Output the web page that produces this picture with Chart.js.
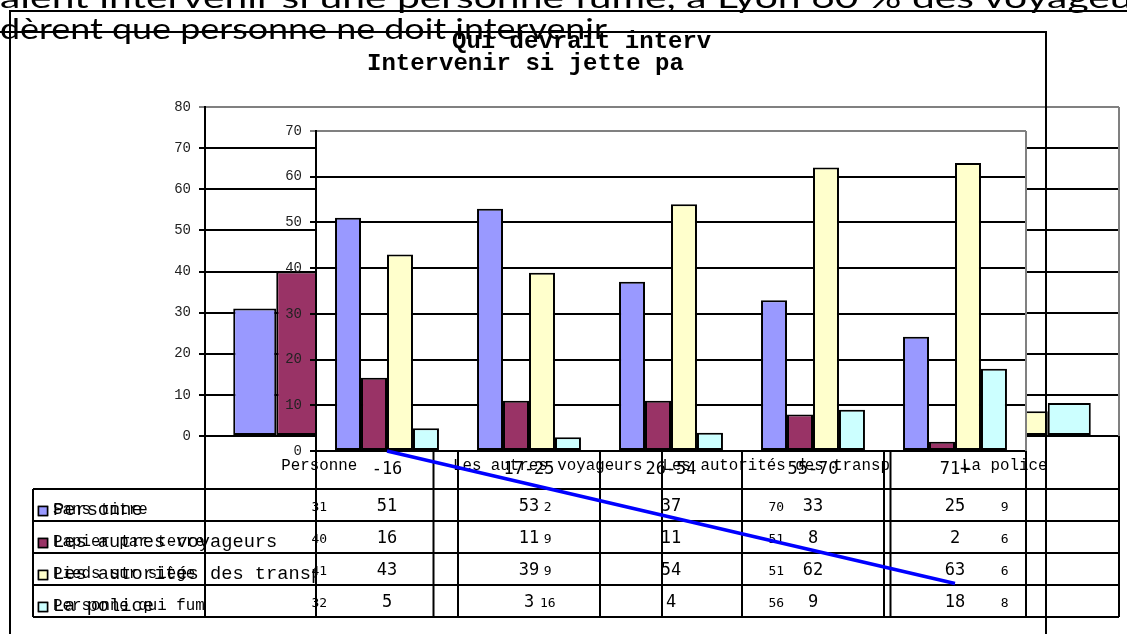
<!DOCTYPE html>
<html>
<head>
<meta charset="utf-8">
<script src="https://cdn.jsdelivr.net/npm/chart.js@4.4.1/dist/chart.umd.min.js"></script>
<style>
  html,body{margin:0;padding:0;background:#fff;width:1127px;height:634px;overflow:hidden;}
  canvas{position:absolute;left:0;top:0;}
  #backCanvas{z-index:1;}
  #frontCanvas{z-index:2;}
  .frame{position:absolute;border:2px solid #000;box-sizing:border-box;z-index:3;}
  #backFrame{left:9px;top:10px;width:1200px;height:700px;}
  #frontFrame{left:-20px;top:31px;width:1067px;height:700px;}
  #txt{position:absolute;left:0;top:0;z-index:4;}
  .ttl{position:absolute;z-index:4;font-family:"Liberation Mono","Courier New",monospace;font-weight:bold;font-size:24px;line-height:24px;color:#000;white-space:nowrap;}
</style>
</head>
<body>
<canvas id="backCanvas" width="1127" height="634"></canvas>
<canvas id="frontCanvas" width="1127" height="634"></canvas>
<div class="frame" id="backFrame"></div>
<div class="frame" id="frontFrame"></div>
<svg id="txt" width="1127" height="634">
  <text x="0" y="8" font-family="Lato, 'DejaVu Sans', sans-serif" font-size="28" textLength="1165" lengthAdjust="spacingAndGlyphs">aient intervenir si une personne fume, à Lyon 60 % des voyageurs</text>
  <text x="0" y="39" font-family="Lato, 'DejaVu Sans', sans-serif" font-size="28" textLength="607" lengthAdjust="spacingAndGlyphs">dèrent que personne ne doit intervenir</text>
</svg>
<div class="ttl" style="left:452px;top:30px;">Qui devrait interv</div>
<div class="ttl" style="left:367px;top:52px;">Intervenir si jette pa</div>
<script>
// ---------- DATA ----------
// Front chart: "Qui devrait intervenir si jette papier" by age group
const frontCategories = ['-16', '17-25', '26-54', '55-70', '71+'];
const frontSeriesNames = ['Personne', 'Les autres voyageurs', 'Les autorités des transp', 'La police'];
const frontPersonne = [51, 53, 37, 33, 25];
const frontAutresVoyageurs = [16, 11, 11, 8, 2];
const frontAutorites = [43, 39, 54, 62, 63];
const frontPolice = [5, 3, 4, 9, 18];
const frontYTicks = [0, 10, 20, 30, 40, 50, 60, 70];

// Back chart: who should intervene, by incivility
const backCategories = ['Personne', 'Les autres voyageurs', 'Les autorités des transp', 'La police'];
const backSeriesNames = ['Sans titre', 'Papier par terre', 'Pieds sur siège', 'Personne qui fum'];
const backSansTitre = [31, 2, 70, 9];
const backPapier = [40, 9, 51, 6];
const backPieds = [41, 9, 51, 6];
const backFume = [32, 16, 56, 8];
const backYTicks = [0, 10, 20, 30, 40, 50, 60, 70, 80];

// Hand-drawn blue line over the chart (front chart data coordinates)
const blueLineFrom = ['-16', 0];
const blueLineTo = ['71+', -29];

// ---------- STYLE ----------
const COLORS = ['#9999FF', '#993366', '#FFFFCC', '#CCFFFF'];
const ROWS_Y = [489, 521, 553, 585, 617];
const TABLE_LEFT = 33;
const MONO = '"Liberation Mono", "Courier New", monospace';
const SANSMONO = '"DejaVu Sans Mono", monospace';

function line(ctx, x1, y1, x2, y2) { ctx.beginPath(); ctx.moveTo(x1, y1); ctx.lineTo(x2, y2); ctx.stroke(); }

function makeTablePlugin(cfg) {
  return {
    id: 'table_' + cfg.name,
    beforeDraw(chart) {
      if (cfg.whitePlot) {
        const a = chart.chartArea, ctx = chart.ctx;
        ctx.save(); ctx.fillStyle = '#fff'; ctx.fillRect(a.left, a.top, a.right - a.left, a.bottom - a.top); ctx.restore();
      }
    },
    afterDraw(chart) {
      const ctx = chart.ctx, a = chart.chartArea, xs = chart.scales.x, ys = chart.scales.y;
      const n = chart.data.labels.length, step = (a.right - a.left) / n;
      const last = ROWS_Y[ROWS_Y.length - 1];
      ctx.save();
      // plot right border (gray)
      ctx.strokeStyle = '#808080'; ctx.lineWidth = 2;
      line(ctx, a.right, a.top, a.right, a.bottom);
      // table grid
      ctx.strokeStyle = '#000'; ctx.lineWidth = 2;
      for (let k = 0; k <= n; k++) { const xx = a.left + k * step; line(ctx, xx, a.bottom, xx, last); }
      ROWS_Y.forEach(yy => line(ctx, TABLE_LEFT, yy, a.right, yy));
      line(ctx, TABLE_LEFT, ROWS_Y[0], TABLE_LEFT, last);
      // legend + values
      chart.data.datasets.forEach((ds, i) => {
        const rc = (ROWS_Y[i] + ROWS_Y[i + 1]) / 2;
        ctx.fillStyle = ds.backgroundColor; ctx.fillRect(38.5, rc + 6 - 4.5, 9, 9);
        ctx.lineWidth = 1.5; ctx.strokeStyle = '#000'; ctx.strokeRect(38.5, rc + 6 - 4.5, 9, 9);
        ctx.save();
        ctx.beginPath(); ctx.rect(TABLE_LEFT, ROWS_Y[i], a.left - TABLE_LEFT, ROWS_Y[i + 1] - ROWS_Y[i]); ctx.clip();
        ctx.fillStyle = '#000'; ctx.font = cfg.legendFont; ctx.textAlign = 'left'; ctx.textBaseline = 'middle';
        ctx.fillText(ds.label, 53, rc + 5);
        ctx.restore();
        ctx.fillStyle = '#000'; ctx.font = cfg.valueFont; ctx.textAlign = 'center'; ctx.textBaseline = 'middle';
        ds.data.forEach((v, j) => ctx.fillText(String(v), xs.getPixelForValue(j), rc + cfg.valueDy));
      });
      // annotation line
      if (cfg.blueLine) {
        ctx.strokeStyle = '#0000FF'; ctx.lineWidth = 3.5; ctx.lineCap = 'butt';
        const li = (c) => chart.data.labels.indexOf(c);
        line(ctx, xs.getPixelForValue(li(blueLineFrom[0])), ys.getPixelForValue(blueLineFrom[1]),
                  xs.getPixelForValue(li(blueLineTo[0])), ys.getPixelForValue(blueLineTo[1]));
      }
      ctx.restore();
    }
  };
}

function makeChart(canvasId, o) {
  return new Chart(document.getElementById(canvasId), {
    type: 'bar',
    data: {
      labels: o.labels,
      datasets: o.names.map((nm, i) => ({
        label: nm, data: o.values[i], backgroundColor: COLORS[i], borderColor: '#000',
        borderWidth: 2, borderSkipped: false, categoryPercentage: o.catPct, barPercentage: 1
      }))
    },
    options: {
      responsive: false, animation: false, devicePixelRatio: 1,
      layout: { padding: { top: o.plotTop, right: 1127 - o.plotRight, left: 0, bottom: 0 } },
      plugins: { legend: { display: false }, title: { display: false }, tooltip: { enabled: false } },
      scales: {
        x: {
          grid: { display: false, drawTicks: false },
          border: { display: true, color: '#000', width: 2 },
          ticks: { font: o.xFont, color: '#000', padding: o.xPad, maxRotation: 0, autoSkip: false },
          afterFit: s => { s.height = 634 - o.plotBottom; }
        },
        y: {
          min: o.yTicks[0], max: o.yTicks[o.yTicks.length - 1],
          afterBuildTicks: s => { s.ticks = o.yTicks.map(v => ({ value: v })); },
          ticks: { font: { family: MONO, size: 14 }, color: '#222', padding: 8 },
          grid: {
            color: c => (c.tick && c.tick.value === o.yTicks[o.yTicks.length - 1]) ? '#808080' : '#000',
            lineWidth: 2, tickLength: 6, drawTicks: true
          },
          border: { color: '#000', width: 2 },
          afterFit: s => { s.width = o.plotLeft; }
        }
      }
    },
    plugins: [makeTablePlugin(o.table)]
  });
}

makeChart('backCanvas', {
  labels: backCategories, names: backSeriesNames,
  values: [backSansTitre, backPapier, backPieds, backFume],
  yTicks: backYTicks, catPct: 0.753,
  plotLeft: 205, plotTop: 107, plotRight: 1119, plotBottom: 436,
  xFont: { family: MONO, size: 15.8 }, xPad: 20,
  table: { name: 'back', whitePlot: false, legendFont: '15.8px ' + MONO, valueFont: '13px ' + SANSMONO, valueDy: 3, blueLine: false }
});

makeChart('frontCanvas', {
  labels: frontCategories, names: frontSeriesNames,
  values: [frontPersonne, frontAutresVoyageurs, frontAutorites, frontPolice],
  yTicks: frontYTicks, catPct: 0.732,
  plotLeft: 316, plotTop: 131, plotRight: 1026, plotBottom: 451,
  xFont: { family: SANSMONO, size: 17 }, xPad: 8,
  table: { name: 'front', whitePlot: true, legendFont: '18.7px ' + MONO, valueFont: '17px ' + SANSMONO, valueDy: 2, blueLine: true }
});
</script>
</body>
</html>
